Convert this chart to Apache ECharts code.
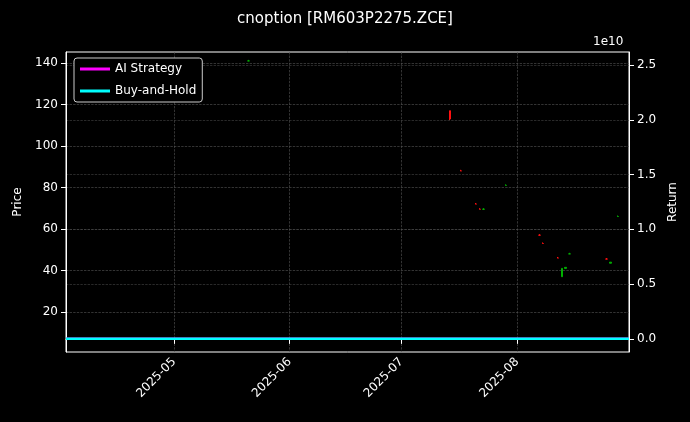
<!DOCTYPE html><html><head><meta charset="utf-8"><script src="https://cdn.jsdelivr.net/npm/echarts@6/dist/echarts.min.js"></script>
<style>html,body{margin:0;background:#000}#c{width:690px;height:422px}</style></head><body><div id="c"></div><script>
const dates = ['2025-05-21','2025-07-14','2025-07-17','2025-07-21','2025-07-22','2025-07-23','2025-07-29','2025-08-07','2025-08-08','2025-08-12','2025-08-13','2025-08-14','2025-08-15','2025-08-25','2025-08-26','2025-08-28'];
const opens  = [141,117,88,72,69.5,69.5,81,57,53,46,37,41,48,45.5,43.5,66];
const closes = [141,113,88,72,69.5,69.5,81,57,53,46,41,41.5,48,45.5,44,66];
const lows   = [141,112.5,88,72,69.5,69.5,81,57,53,46,37,41,48,45.5,43.5,66];
const highs  = [141.5,117,88.5,72.5,70,70,81.5,57.5,53.5,46.5,41,41.5,48.5,46,44,66.5];
const retDates = ['2025-04-02','2025-05-21','2025-07-14','2025-08-13','2025-08-31'];
const aiReturn = [0,0,0,0,0];
const bhReturn = [0,0,0,0,0];
const monthTicks = ['2025-05-01','2025-06-01','2025-07-01','2025-08-01'];
const priceTicks = [20,40,60,80,100,120,140];
const returnTicks = [0,0.5,1.0,1.5,2.0,2.5];
const t = s => Date.parse(s+'T00:00:00Z');
const ch = echarts.init(document.getElementById('c'));
const txt = {color:'#fff',fontFamily:'DejaVu Sans',fontSize:12};
const grid = {show:true,lineStyle:{color:'#555',type:'dashed',width:0.6}};
ch.setOption({
 backgroundColor:'#000', animation:false,
 title:{text:'cnoption [RM603P2275.ZCE]',left:'center',top:7,textStyle:{color:'#fff',fontFamily:'DejaVu Sans',fontSize:15,fontWeight:'normal'}},
 legend:{left:74,top:58,orient:'vertical',itemWidth:30,itemHeight:3,itemGap:10,backgroundColor:'#000',borderColor:'#ccc',borderWidth:1,borderRadius:3,padding:[5,6],textStyle:txt,
   data:[{name:'AI Strategy',icon:'rect'},{name:'Buy-and-Hold',icon:'rect'}]},
 grid:{left:66,right:61,top:52,bottom:70,show:true,borderColor:'#fff',borderWidth:1},
 xAxis:{type:'value',min:t('2025-04-02'),max:t('2025-08-31'),
   axisLine:{show:true,lineStyle:{color:'#fff'}},
   axisTick:{show:true,customValues:monthTicks.map(t),lineStyle:{color:'#fff'}},
   splitLine:grid,
   axisLabel:{...txt,rotate:45,customValues:monthTicks.map(t),
     formatter:v=>{const d=new Date(v);return d.getUTCFullYear()+'-'+String(d.getUTCMonth()+1).padStart(2,'0');}}},
 yAxis:[
  {type:'value',min:0.7,max:145.3,name:'Price',nameLocation:'middle',nameGap:40,nameTextStyle:txt,
   axisLine:{show:true,lineStyle:{color:'#fff'}},axisLabel:{...txt,customValues:priceTicks},axisTick:{show:true,customValues:priceTicks},
   splitLine:grid},
  {type:'value',min:-0.12,max:2.62,name:'Return',nameLocation:'middle',nameGap:38,nameTextStyle:txt,
   axisLine:{show:true,lineStyle:{color:'#fff'}},axisLabel:{...txt,customValues:returnTicks,formatter:v=>v.toFixed(1)},axisTick:{show:true,customValues:returnTicks},
   splitLine:{show:true,lineStyle:{color:'#444',type:'dashed',width:0.6}}}
 ],
 graphic:[{type:'text',left:593,top:36,style:{text:'1e10',fill:'#fff',font:'12px DejaVu Sans'}}],
 series:[
  {type:'candlestick',name:'Price',barWidth:2,data:dates.map((d,i)=>[t(d),opens[i],closes[i],lows[i],highs[i]]),
   itemStyle:{color:'#00b000',color0:'#ff1010',borderColor:'#00b000',borderColor0:'#ff1010'}},
  {type:'line',name:'AI Strategy',yAxisIndex:1,symbol:'none',data:retDates.map((d,i)=>[t(d),aiReturn[i]]),lineStyle:{color:'#ff00ff',width:2.5},itemStyle:{color:'#ff00ff'}},
  {type:'line',name:'Buy-and-Hold',yAxisIndex:1,symbol:'none',data:retDates.map((d,i)=>[t(d),bhReturn[i]]),lineStyle:{color:'#00ffff',width:2.5},itemStyle:{color:'#00ffff'}}
 ]
});
</script></body></html>
